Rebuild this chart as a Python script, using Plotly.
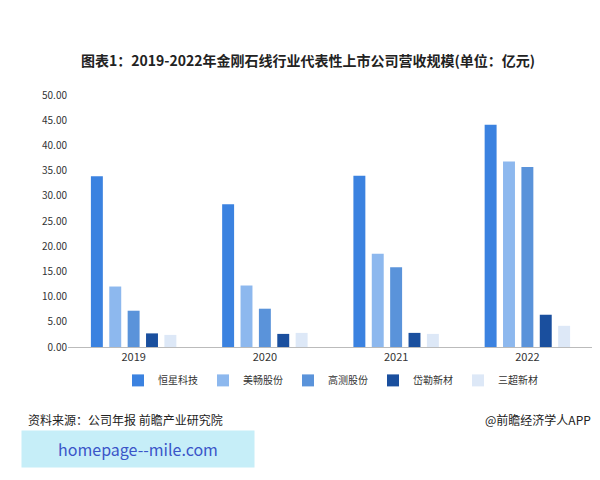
import plotly.graph_objects as go

years = ["2019", "2020", "2021", "2022"]
series_names = ["恒星科技", "美畅股份", "高测股份", "岱勒新材", "三超新材"]
hengxing = [33.9, 28.3, 34.0, 44.1]
meichang = [12.0, 12.2, 18.5, 36.8]
gaoce = [7.2, 7.6, 15.8, 35.7]
daile = [2.7, 2.6, 2.8, 6.4]
sanchao = [2.4, 2.8, 2.6, 4.2]
values = [hengxing, meichang, gaoce, daile, sanchao]
colors = ["#3b82e0", "#8db8ee", "#5a93da", "#1a4f9e", "#dde8f7"]
yticks = [0, 5, 10, 15, 20, 25, 30, 35, 40, 45, 50]

fig = go.Figure()
for n, v, c in zip(series_names, values, colors):
    fig.add_bar(name=n, x=years, y=v, marker_color=c, marker_line_width=0)

font = "Noto Sans CJK SC"
fig.update_layout(
    width=600, height=480, margin=dict(l=60, r=15, t=87, b=141),
    paper_bgcolor="white", plot_bgcolor="white",
    font=dict(family=font, size=11, color="#333"),
    bargap=0.3, bargroupgap=0.35,
    title=dict(text="<b>图表1：2019-2022年金刚石线行业代表性上市公司营收规模(单位：亿元)</b>",
               x=0.5, xanchor="center", y=0.89, yanchor="middle", font=dict(size=14, color="#222")),
    legend=dict(orientation="h", x=0.5, xanchor="center", y=-0.075, yanchor="top",
                font=dict(size=10), itemwidth=30, traceorder="normal", tracegroupgap=0),
    xaxis=dict(showline=True, linecolor="#bbb", ticks="", tickfont=dict(size=11)),
    yaxis=dict(range=[0, 50], tickvals=yticks, tickformat=".2f", showgrid=False,
               zeroline=False, tickfont=dict(size=10)),
)
fig.add_annotation(text="资料来源：公司年报 前瞻产业研究院", xref="paper", yref="paper",
                   x=-0.08, y=-0.33, xanchor="left", showarrow=False, font=dict(size=12, color="#222"))
fig.add_annotation(text="@前瞻经济学人APP", xref="paper", yref="paper",
                   x=1.0, y=-0.33, xanchor="right", showarrow=False, font=dict(size=12, color="#222"))
fig.add_annotation(text="homepage--mile.com", xref="paper", yref="paper",
                   x=-0.09, y=-0.48, xanchor="left", showarrow=False,
                   bgcolor="#c6eef8", width=230, height=34, font=dict(size=16, color="#3a55c8"))
fig.write_html("out.html")
